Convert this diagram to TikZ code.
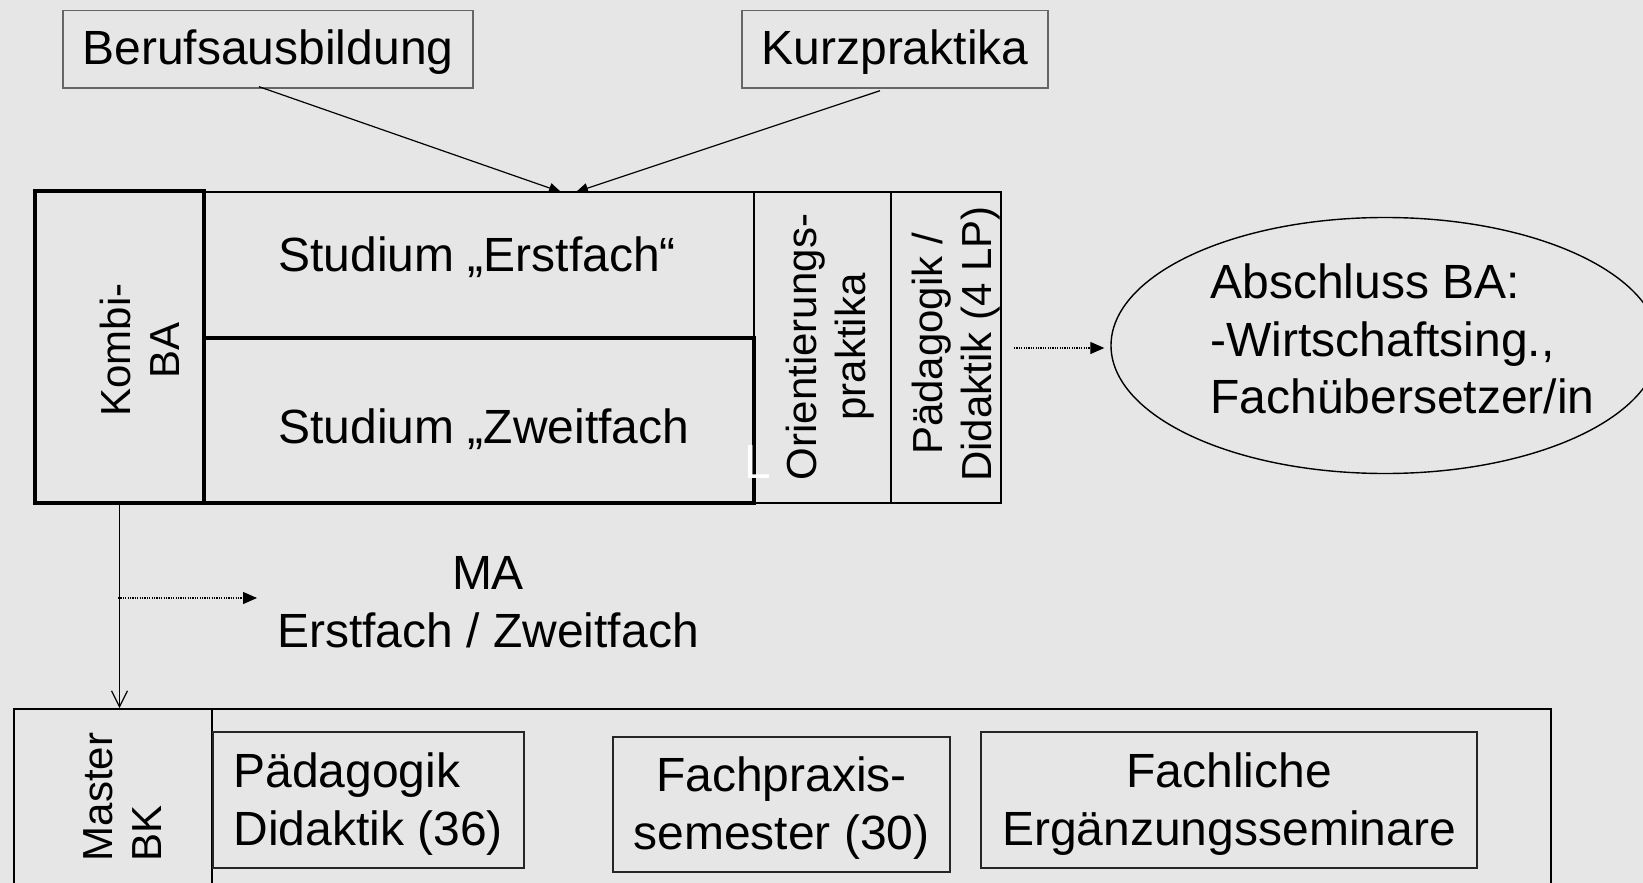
\documentclass[tikz,border=0pt]{standalone}
\usepackage{fontspec}
\setmainfont{Liberation Sans}
\usetikzlibrary{arrows.meta,shapes.geometric,calc}
\definecolor{bg}{RGB}{230,230,230}
\tikzset{
  box/.style={draw, line width=0.7pt, inner sep=0pt, rectangle},
  thickbox/.style={draw, line width=1.6pt, inner sep=0pt, rectangle},
  bigtxt/.style={font=\fontsize{24}{28.75}\selectfont, inner sep=0pt, align=center},
  rottxt/.style={font=\fontsize{21}{24.5}\selectfont, rotate=90, inner sep=0pt, align=center},
  solidarrow/.style={line width=0.6pt, -{Triangle[length=6pt,width=5pt]}},
  dotarrow/.style={line width=0.6pt, dash pattern=on 0.6pt off 0.6pt, -{Triangle[length=7pt,width=6pt]}},
  openarrow/.style={line width=0.6pt, -{Straight Barb[length=8pt,width=8pt]}}
}
\begin{document}
\begin{tikzpicture}[x=0.5pt, y=-0.5pt]
\fill[bg] (0,0) rectangle (1643,883);
\useasboundingbox (0,0) rectangle (1643,883);
\clip (0,0) rectangle (1643,883);

% top boxes
\node[box, draw=black!60, minimum width=205pt, minimum height=38.75pt] (beruf) at (268,49.25) {};
\node[bigtxt] (beruftxt) at (268,52) {Berufsausbildung};
\node[box, draw=black!60, minimum width=153pt, minimum height=38.75pt] (kurz) at (895,49.25) {};
\node[bigtxt] (kurztxt) at (895,52) {Kurzpraktika};

% BA block
\node[box, minimum width=275pt, minimum height=73pt] (erst) at (479,265) {};
\node[bigtxt, anchor=west] (ersttxt) at (278,257) {Studium „Erstfach“};
\node[thickbox, minimum width=275pt, minimum height=82.5pt] (zweit) at (479,420.5) {};
\node[bigtxt, anchor=west] (zweittxt) at (278,429) {Studium „Zweitfach};
\node[box, minimum width=68.5pt, minimum height=155.5pt] (orient) at (822.5,347.5) {};
\node[rottxt] (orienttxt) at (830,347) {Orientierungs-\\praktika};
\node[box, minimum width=55pt, minimum height=155.5pt] (paed) at (946,347.5) {};
\node[rottxt] (paedtxt) at (956,344) {Pädagogik /\\Didaktik (4 LP)};
\node[thickbox, minimum width=84.5pt, minimum height=156pt] (kombi) at (119.5,347) {};
\node[rottxt] (kombitxt) at (140,350) {Kombi-\\BA};
\node[text=white, font=\fontsize{24}{28}\selectfont, inner sep=0pt, anchor=base west] (wl) at (744,478) {L};

% ellipse
\node[ellipse, draw, line width=0.7pt, minimum width=274pt, minimum height=128pt, inner sep=0pt] (abs) at (1385,345.5) {};
\node[bigtxt, align=left, anchor=west] (abstxt) at (1210,339) {Abschluss BA:\\-Wirtschaftsing.,\\Fachübersetzer/in};

% MA
\node[bigtxt] (ma) at (488,602) {MA\\Erstfach / Zweitfach};

% master block
\node[box, minimum width=768.5pt, minimum height=93pt] (master) at (782.5,802) {};
\node[box, line width=0.9pt, minimum width=99pt, minimum height=93pt] (mleft) at (113,802) {};
\node[rottxt, align=left] (mlefttxt) at (123,797) {Master\\BK};
\node[box, draw=black!85, minimum width=155.5pt, minimum height=68pt] (pd36) at (368.5,800) {};
\node[bigtxt, align=left, anchor=west] (pd36txt) at (233,804) {Pädagogik\\Didaktik (36)};
\node[box, draw=black!85, minimum width=168.5pt, minimum height=67.5pt] (fpx) at (781.5,804.5) {};
\node[bigtxt] (fpxtxt) at (781.5,808) {Fachpraxis-\\semester (30)};
\node[box, draw=black!85, minimum width=248pt, minimum height=68pt] (fach) at (1229,800) {};
\node[bigtxt] (fachtxt) at (1229,804) {Fachliche\\Ergänzungsseminare};

% connectors
\coordinate (in1) at (561,192);
\coordinate (in2) at (576,192);
\draw[solidarrow] ([xshift=-4.5pt,yshift=1pt]beruf.south) -- (in1);
\draw[solidarrow] ([xshift=-7.5pt,yshift=-1pt]kurz.south) -- (in2);
\draw[openarrow] (kombi.south) -- (kombi.south |- mleft.north);
\coordinate (m1) at (118,598);
\coordinate (m2) at (257,598);
\draw[dotarrow] (m1) -- (m2);
\coordinate (p1) at (1014,348);
\draw[dotarrow, shorten >=3pt] (p1) -- (abs.west |- p1);
\end{tikzpicture}
\end{document}
